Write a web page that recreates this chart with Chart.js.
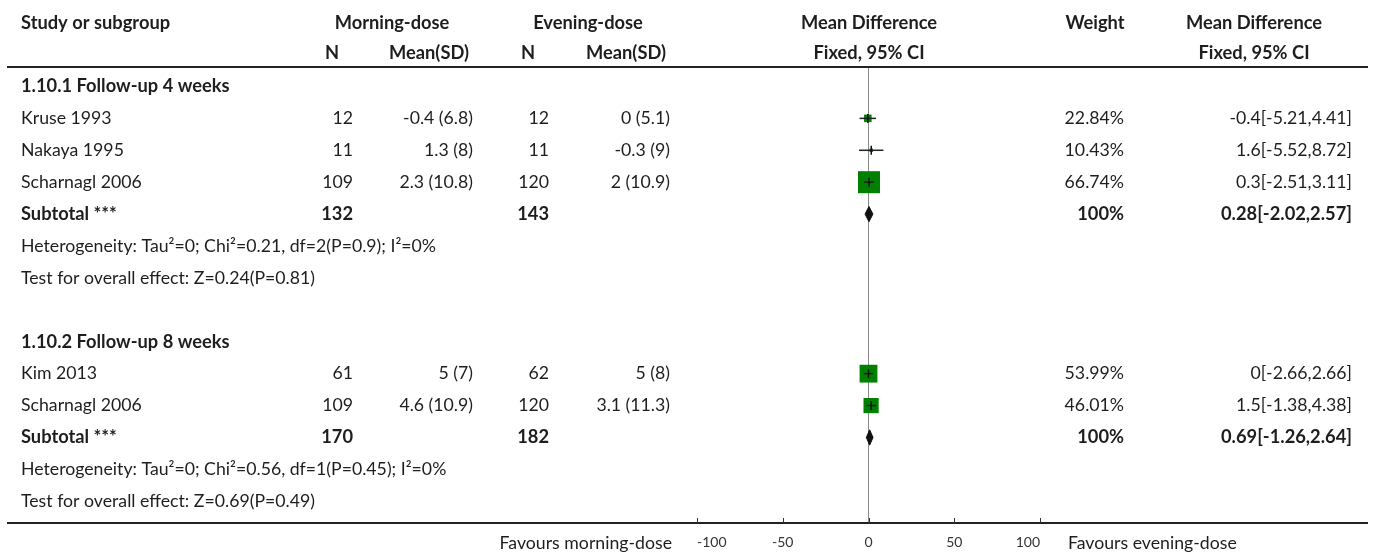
<!DOCTYPE html>
<html>
<head>
<meta charset="utf-8">
<script src="https://cdn.jsdelivr.net/npm/chart.js"></script>
<style>
  html, body { margin: 0; padding: 0; background: #fff; }
  #wrap { width: 1373px; height: 554px; }
</style>
</head>
<body>
<div id="wrap"><canvas id="myChart" width="1373" height="554"></canvas></div>
<script>
// study rows
var studies = ['Kruse 1993', 'Nakaya 1995', 'Scharnagl 2006', 'Kim 2013', 'Scharnagl 2006'];
var studyRows = [1, 2, 3, 9, 10];
var morningN = [12, 11, 109, 61, 109];
var morningMean = [-0.4, 1.3, 2.3, 5, 4.6];
var morningSD = [6.8, 8, 10.8, 7, 10.9];
var eveningN = [12, 11, 120, 62, 120];
var eveningMean = [0, -0.3, 2, 5, 3.1];
var eveningSD = [5.1, 9, 10.9, 8, 11.3];
var weights = [22.84, 10.43, 66.74, 53.99, 46.01];
var meanDiff = [-0.4, 1.6, 0.3, 0, 1.5];
var ciLow = [-5.21, -5.52, -2.51, -2.66, -1.38];
var ciHigh = [4.41, 8.72, 3.11, 2.66, 4.38];

// subgroups
var groupTitles = ['1.10.1 Follow-up 4 weeks', '1.10.2 Follow-up 8 weeks'];
var groupRows = [0, 8];
var subRows = [4, 11];
var subMorningN = [132, 170];
var subEveningN = [143, 182];
var subMeanDiff = [0.28, 0.69];
var subLow = [-2.02, -1.26];
var subHigh = [2.57, 2.64];
var hetTexts = ['Heterogeneity: Tau\u00b2=0; Chi\u00b2=0.21, df=2(P=0.9); I\u00b2=0%',
                'Heterogeneity: Tau\u00b2=0; Chi\u00b2=0.56, df=1(P=0.45); I\u00b2=0%'];
var hetRows = [5, 12];
var effectTexts = ['Test for overall effect: Z=0.24(P=0.81)', 'Test for overall effect: Z=0.69(P=0.49)'];
var effectRows = [6, 13];

var xTicks = [-100, -50, 0, 50, 100];
var favoursLeft = 'Favours morning-dose';
var favoursRight = 'Favours evening-dose';

var FONT = 'Lato, "Noto Sans", sans-serif';
var INK = '#1e1e1e';

var datasets = [];

// line of no effect
datasets.push({
  type: 'line', order: 9,
  data: [{x: 0, y: -0.61}, {x: 0, y: 13.68}],
  borderColor: '#8a8a8a', borderWidth: 1, pointRadius: 0, clip: false
});

// study squares
datasets.push({
  type: 'scatter', order: 8,
  data: studies.map(function (s, i) { return {x: meanDiff[i], y: studyRows[i]}; }),
  pointStyle: 'rect',
  pointRadius: function (c) { return weights[c.dataIndex] * 0.33 / Math.SQRT2; },
  backgroundColor: '#008000', borderWidth: 0
});

// confidence intervals
studies.forEach(function (s, i) {
  datasets.push({
    type: 'line', order: 7,
    data: [{x: ciLow[i], y: studyRows[i]}, {x: ciHigh[i], y: studyRows[i]}],
    borderColor: '#222', borderWidth: 1.5, pointRadius: 0
  });
});

// point estimate ticks
datasets.push({
  type: 'scatter', order: 6,
  data: studies.map(function (s, i) { return {x: meanDiff[i], y: studyRows[i]}; }),
  pointStyle: 'line', rotation: 90, pointRadius: 4.5,
  borderColor: '#111', borderWidth: 1.5
});

// subtotal diamonds
subRows.forEach(function (r, i) {
  datasets.push({
    type: 'line', order: 5,
    data: [{x: subLow[i], y: r}, {x: subMeanDiff[i], y: r - 0.24}, {x: subHigh[i], y: r},
           {x: subMeanDiff[i], y: r + 0.24}, {x: subLow[i], y: r}],
    borderColor: '#111', borderWidth: 1, backgroundColor: '#111',
    fill: 'shape', pointRadius: 0, tension: 0
  });
});

function txt(ctx, s, x, y, align, bold, size) {
  ctx.font = (bold ? 'bold 18.3px ' : (size || 17.7) + 'px ') + FONT;
  ctx.textAlign = align;
  ctx.textBaseline = 'middle';
  ctx.fillStyle = INK;
  ctx.fillText(s, x, y);
}

var tablePlugin = {
  id: 'table',
  afterDraw: function (chart) {
    var ctx = chart.ctx;
    var xs = chart.scales.x, ys = chart.scales.y;
    var area = chart.chartArea;
    ctx.save();

    // header
    txt(ctx, 'Study or subgroup', 21, 23, 'left', true);
    txt(ctx, 'Morning-dose', 392, 23, 'center', true);
    txt(ctx, 'Evening-dose', 588, 23, 'center', true);
    txt(ctx, 'Mean Difference', 869, 23, 'center', true);
    txt(ctx, 'Weight', 1095, 23, 'center', true);
    txt(ctx, 'Mean Difference', 1254, 23, 'center', true);
    txt(ctx, 'N', 332, 53, 'center', true);
    txt(ctx, 'Mean(SD)', 429, 53, 'center', true);
    txt(ctx, 'N', 528, 53, 'center', true);
    txt(ctx, 'Mean(SD)', 626, 53, 'center', true);
    txt(ctx, 'Fixed, 95% CI', 869, 53, 'center', true);
    txt(ctx, 'Fixed, 95% CI', 1254, 53, 'center', true);

    ctx.strokeStyle = '#222';
    ctx.lineWidth = 2;
    ctx.beginPath();
    ctx.moveTo(7, area.top);
    ctx.lineTo(1368, area.top);
    ctx.stroke();

    groupTitles.forEach(function (t, i) {
      txt(ctx, t, 21, ys.getPixelForValue(groupRows[i]), 'left', true);
    });

    studies.forEach(function (s, i) {
      var y = ys.getPixelForValue(studyRows[i]);
      txt(ctx, s, 21, y, 'left');
      txt(ctx, String(morningN[i]), 353, y, 'right');
      txt(ctx, morningMean[i] + ' (' + morningSD[i] + ')', 473, y, 'right');
      txt(ctx, String(eveningN[i]), 549, y, 'right');
      txt(ctx, eveningMean[i] + ' (' + eveningSD[i] + ')', 670, y, 'right');
      txt(ctx, weights[i].toFixed(2) + '%', 1124, y, 'right');
      txt(ctx, meanDiff[i] + '[' + ciLow[i] + ',' + ciHigh[i] + ']', 1352, y, 'right');
    });

    subRows.forEach(function (r, i) {
      var y = ys.getPixelForValue(r);
      txt(ctx, 'Subtotal ***', 21, y, 'left', true);
      txt(ctx, String(subMorningN[i]), 353, y, 'right', true);
      txt(ctx, String(subEveningN[i]), 549, y, 'right', true);
      txt(ctx, '100%', 1124, y, 'right', true);
      txt(ctx, subMeanDiff[i] + '[' + subLow[i] + ',' + subHigh[i] + ']', 1352, y, 'right', true);
      txt(ctx, hetTexts[i], 21, ys.getPixelForValue(hetRows[i]), 'left');
      txt(ctx, effectTexts[i], 21, ys.getPixelForValue(effectRows[i]), 'left');
    });

    // axis line with upward ticks
    ctx.strokeStyle = '#222';
    ctx.lineWidth = 2;
    ctx.beginPath();
    ctx.moveTo(7, area.bottom);
    ctx.lineTo(1368, area.bottom);
    ctx.stroke();
    ctx.lineWidth = 1;
    ctx.strokeStyle = '#333';
    xTicks.forEach(function (v) {
      var px = Math.round(xs.getPixelForValue(v)) + 0.5;
      ctx.beginPath();
      ctx.moveTo(px, area.bottom);
      ctx.lineTo(px, area.bottom - 5);
      ctx.stroke();
    });

    txt(ctx, favoursLeft, 672, 543, 'right');
    txt(ctx, favoursRight, 1068, 543, 'left');
    ctx.restore();
  }
};

var ctx = document.getElementById('myChart').getContext('2d');
var chart = new Chart(ctx, {
  data: { datasets: datasets },
  options: {
    responsive: false,
    animation: false,
    events: [],
    layout: { padding: { left: 697, right: 333, top: 67, bottom: 0 } },
    plugins: { legend: { display: false }, tooltip: { enabled: false } },
    scales: {
      x: {
        type: 'linear', min: -100, max: 100,
        grid: { display: false }, border: { display: false },
        afterBuildTicks: function (s) { s.ticks = xTicks.map(function (v) { return {value: v}; }); },
        afterFit: function (s) { s.height = 31; },
        ticks: { align: 'inner', padding: 3, color: '#333', font: { family: FONT, size: 14 } }
      },
      y: {
        type: 'linear', min: -0.61, max: 13.68, reverse: true, display: false
      }
    }
  },
  plugins: [tablePlugin]
});
</script>
</body>
</html>
